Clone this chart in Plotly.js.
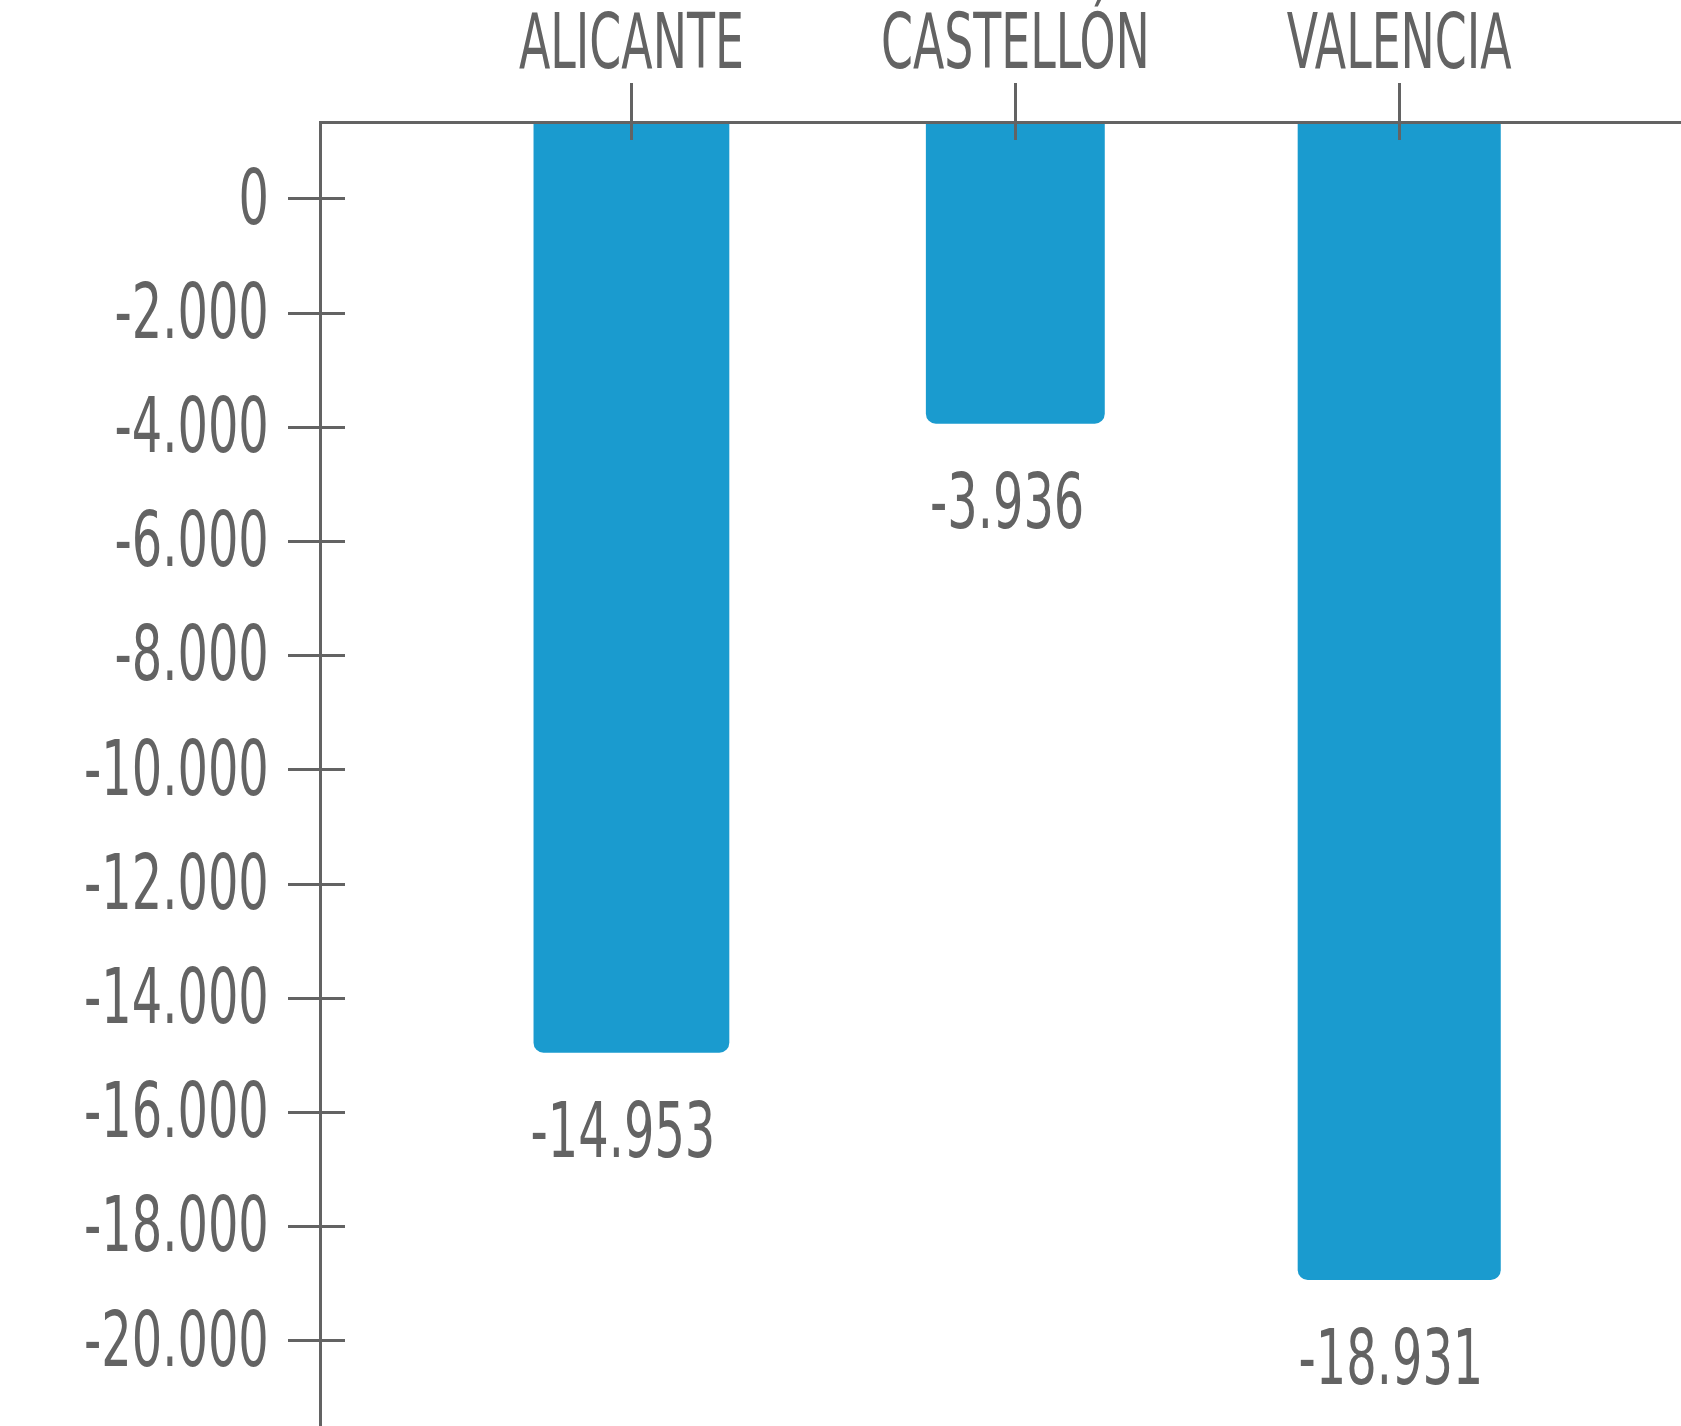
<!DOCTYPE html>
<html>
<head>
<meta charset="utf-8">
<script src="https://cdn.plot.ly/plotly-3.0.1.min.js"></script>
<style>
  html, body { margin: 0; padding: 0; background: #ffffff; }
  #chart { width: 1681px; height: 1426px; }
</style>
</head>
<body>
<div id="chart"></div>
<script>
// ---- data ----
const categories = ["ALICANTE", "CASTELLÓN", "VALENCIA"];
const values = [-14953, -3936, -18931];
const valueLabels = ["-14.953", "-3.936", "-18.931"];
const tickValues = [0, -2000, -4000, -6000, -8000, -10000, -12000, -14000, -16000, -18000, -20000];
const tickLabels = ["0", "-2.000", "-4.000", "-6.000", "-8.000", "-10.000", "-12.000", "-14.000", "-16.000", "-18.000", "-20.000"];

// ---- style ----
const FONT = "'DejaVu Sans Condensed', 'Liberation Sans Narrow', sans-serif";
const GREY = "#636363";
const BLUE = "#1a9bcf";
const FS = 76;
const Y_RANGE = [-21489, 1313];
const X_RANGE = [-0.806, 2.734];
const barWidths = [0.51, 0.466, 0.529];
const SQUEEZE_NUM = 0.70;   // horizontal condensing of number labels
const SQUEEZE_CAT = 0.67;   // horizontal condensing of category labels

// bars hang from above the top edge of the plot (clipped there) down to their value
const hangFrom = Y_RANGE[1] + 2000;

const bars = {
  type: "bar",
  x: categories,
  base: values.map(() => hangFrom),
  y: values.map(v => v - hangFrom),
  width: barWidths,
  marker: { color: BLUE, cornerradius: 10 },
  hoverinfo: "skip",
  showlegend: false
};

// empty helper trace so the overlay axes (inner halves of the ticks) get drawn
const tickHelper = {
  type: "scatter", mode: "markers", x: [], y: [],
  xaxis: "x2", yaxis: "y2", hoverinfo: "skip", showlegend: false
};

const annotations = categories.map((c, i) => ({
  x: c, y: values[i], xref: "x", yref: "y",
  text: valueLabels[i], showarrow: false,
  yanchor: "top", xanchor: "center", yshift: -31, xshift: -8,
  font: { family: FONT, size: FS, color: GREY }
}));

const layout = {
  width: 1681, height: 1426,
  margin: { l: 322, r: 0, t: 124, b: 0, pad: 0 },
  paper_bgcolor: "#ffffff", plot_bgcolor: "#ffffff",
  showlegend: false,
  xaxis: {
    type: "category", side: "top", range: X_RANGE,
    categoryorder: "array", categoryarray: categories,
    showline: true, linecolor: GREY, linewidth: 3,
    ticks: "outside", ticklen: 38, tickwidth: 3, tickcolor: GREY,
    showgrid: false, zeroline: false,
    tickfont: { family: FONT, size: FS, color: GREY },
    ticklabelstandoff: -15,
    fixedrange: true
  },
  xaxis2: {
    overlaying: "x", anchor: "y2", side: "top", type: "linear", range: X_RANGE,
    tickvals: categories.map((c, i) => i),
    ticks: "inside", ticklen: 16, tickwidth: 3, tickcolor: GREY,
    showticklabels: false, showline: false, showgrid: false, zeroline: false
  },
  yaxis: {
    range: Y_RANGE,
    tickvals: tickValues, ticktext: tickLabels,
    showline: true, linecolor: GREY, linewidth: 3,
    ticks: "outside", ticklen: 31, tickwidth: 3, tickcolor: GREY,
    showgrid: false, zeroline: false,
    tickfont: { family: FONT, size: FS, color: GREY },
    ticklabelstandoff: 4,
    ticklabelshift: -2,
    fixedrange: true
  },
  yaxis2: {
    overlaying: "y", anchor: "x2", side: "left", range: Y_RANGE,
    tickvals: tickValues,
    ticks: "inside", ticklen: 23, tickwidth: 3, tickcolor: GREY,
    showticklabels: false, showline: false, showgrid: false, zeroline: false
  },
  annotations: annotations
};

function condense(gd) {
  const squeeze = (sel, k) => gd.querySelectorAll(sel).forEach(t => {
    const len = t.getComputedTextLength();
    if (len > 0) {
      t.setAttribute("textLength", (len * k).toFixed(1));
      t.setAttribute("lengthAdjust", "spacingAndGlyphs");
    }
  });
  squeeze(".ytick text", SQUEEZE_NUM);
  squeeze(".annotation-text", SQUEEZE_NUM);
  squeeze(".xtick text", SQUEEZE_CAT);
}

Plotly.newPlot("chart", [bars, tickHelper], layout, { displayModeBar: false, staticPlot: true })
  .then(condense);
</script>
</body>
</html>
